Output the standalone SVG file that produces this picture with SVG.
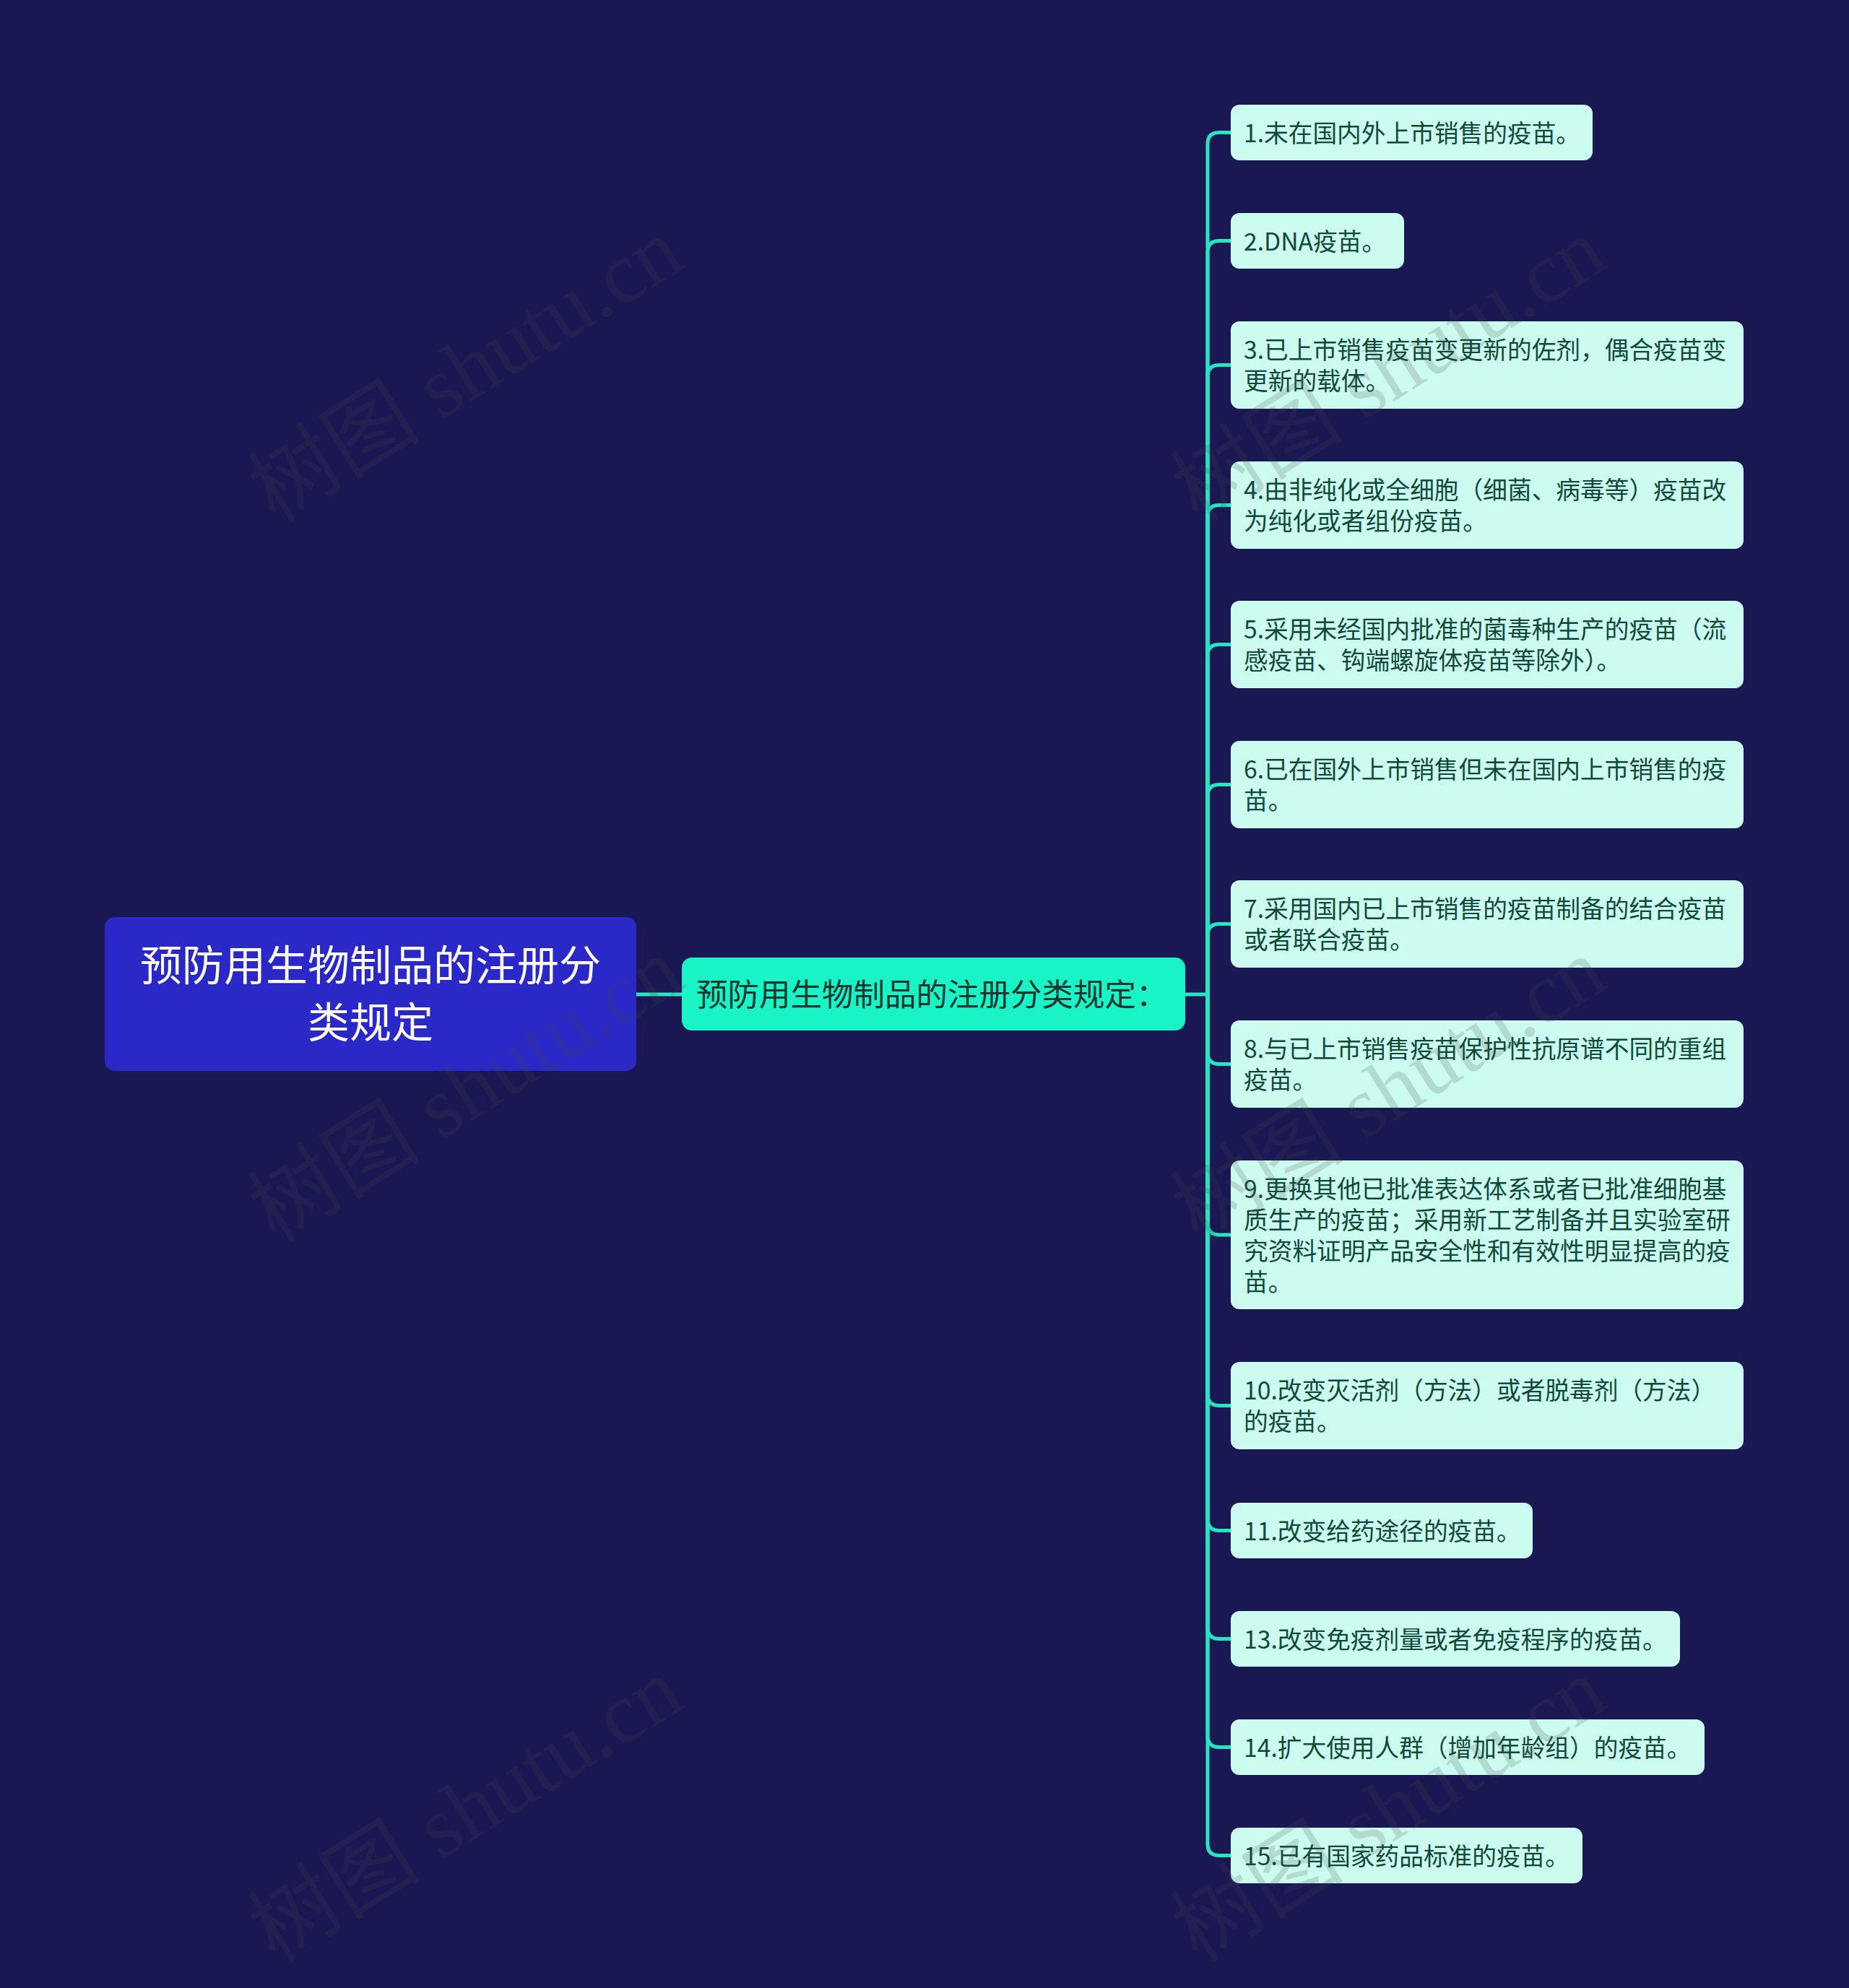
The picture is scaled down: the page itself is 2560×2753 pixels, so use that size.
<svg xmlns="http://www.w3.org/2000/svg" width="2560" height="2753" viewBox="0 0 2560 2753">
<style>
.bg{fill:#1a1852}
.root{fill:#2a28c6}
.sub{fill:#18f4c5}
.leaf{fill:#ccfbef}
.rt{font-family:"Noto Sans CJK SC","Noto Sans",sans-serif;font-size:58px;fill:#ffffff;text-anchor:middle}
.st{font-family:"Noto Sans CJK SC","Noto Sans",sans-serif;font-size:43.5px;fill:#17362f}
.lt{font-family:"Noto Sans CJK SC","Noto Sans",sans-serif;font-size:33.7px;fill:#0d4a3a}
.ln{fill:none;stroke:#24e6c2;stroke-width:5;stroke-linecap:round;stroke-linejoin:round}
.wm{font-family:"Liberation Serif","Noto Sans CJK SC",serif;font-size:120px;fill:#484848;opacity:0.18;text-anchor:middle}
</style>
<rect class="bg" x="0" y="0" width="2560" height="2753"/>
<g id="connectors">
<path class="ln" d="M881 1377 H944"/>
<path class="ln" d="M1641 1377 H1672"/>
<path class="ln" d="M1672 1377 V199.5 Q1672 183.5 1688 183.5 H1704"/>
<path class="ln" d="M1672 1377 V349.5 Q1672 333.5 1688 333.5 H1704"/>
<path class="ln" d="M1672 1377 V521.5 Q1672 505.5 1688 505.5 H1704"/>
<path class="ln" d="M1672 1377 V715.5 Q1672 699.5 1688 699.5 H1704"/>
<path class="ln" d="M1672 1377 V908.5 Q1672 892.5 1688 892.5 H1704"/>
<path class="ln" d="M1672 1377 V1102.5 Q1672 1086.5 1688 1086.5 H1704"/>
<path class="ln" d="M1672 1377 V1295.5 Q1672 1279.5 1688 1279.5 H1704"/>
<path class="ln" d="M1672 1377 V1457.5 Q1672 1473.5 1688 1473.5 H1704"/>
<path class="ln" d="M1672 1377 V1694 Q1672 1710 1688 1710 H1704"/>
<path class="ln" d="M1672 1377 V1930.5 Q1672 1946.5 1688 1946.5 H1704"/>
<path class="ln" d="M1672 1377 V2103.5 Q1672 2119.5 1688 2119.5 H1704"/>
<path class="ln" d="M1672 1377 V2253.5 Q1672 2269.5 1688 2269.5 H1704"/>
<path class="ln" d="M1672 1377 V2403.5 Q1672 2419.5 1688 2419.5 H1704"/>
<path class="ln" d="M1672 1377 V2553.5 Q1672 2569.5 1688 2569.5 H1704"/>
</g>
<g id="root">
<rect class="root" x="145" y="1270" width="736" height="213" rx="14"/>
<text class="rt" x="513" y="1358">预防用生物制品的注册分</text>
<text class="rt" x="513" y="1437">类规定</text>
</g>
<g id="sub">
<rect class="sub" x="944" y="1326" width="697" height="101" rx="14"/>
<text class="st" x="964" y="1393">预防用生物制品的注册分类规定：</text>
</g>
<g id="n1"><rect class="leaf" x="1704" y="145" width="501" height="77" rx="12"/><text class="lt" x="1722" y="196.5">1.未在国内外上市销售的疫苗。</text></g>
<g id="n2"><rect class="leaf" x="1704" y="295" width="240" height="77" rx="12"/><text class="lt" x="1722" y="346.5">2.DNA疫苗。</text></g>
<g id="n3"><rect class="leaf" x="1704" y="445" width="710" height="121" rx="12"/><text class="lt" x="1722" y="497">3.已上市销售疫苗变更新的佐剂，偶合疫苗变</text><text class="lt" x="1722" y="540">更新的载体。</text></g>
<g id="n4"><rect class="leaf" x="1704" y="639" width="710" height="121" rx="12"/><text class="lt" x="1722" y="691">4.由非纯化或全细胞（细菌、病毒等）疫苗改</text><text class="lt" x="1722" y="734">为纯化或者组份疫苗。</text></g>
<g id="n5"><rect class="leaf" x="1704" y="832" width="710" height="121" rx="12"/><text class="lt" x="1722" y="884">5.采用未经国内批准的菌毒种生产的疫苗（流</text><text class="lt" x="1722" y="927">感疫苗、钩端螺旋体疫苗等除外）。</text></g>
<g id="n6"><rect class="leaf" x="1704" y="1026" width="710" height="121" rx="12"/><text class="lt" x="1722" y="1078">6.已在国外上市销售但未在国内上市销售的疫</text><text class="lt" x="1722" y="1121">苗。</text></g>
<g id="n7"><rect class="leaf" x="1704" y="1219" width="710" height="121" rx="12"/><text class="lt" x="1722" y="1271">7.采用国内已上市销售的疫苗制备的结合疫苗</text><text class="lt" x="1722" y="1314">或者联合疫苗。</text></g>
<g id="n8"><rect class="leaf" x="1704" y="1413" width="710" height="121" rx="12"/><text class="lt" x="1722" y="1465">8.与已上市销售疫苗保护性抗原谱不同的重组</text><text class="lt" x="1722" y="1508">疫苗。</text></g>
<g id="n9"><rect class="leaf" x="1704" y="1607" width="710" height="206" rx="12"/><text class="lt" x="1722" y="1658.5">9.更换其他已批准表达体系或者已批准细胞基</text><text class="lt" x="1722" y="1701.5">质生产的疫苗；采用新工艺制备并且实验室研</text><text class="lt" x="1722" y="1744.5">究资料证明产品安全性和有效性明显提高的疫</text><text class="lt" x="1722" y="1787.5">苗。</text></g>
<g id="n10"><rect class="leaf" x="1704" y="1886" width="710" height="121" rx="12"/><text class="lt" x="1722" y="1938">10.改变灭活剂（方法）或者脱毒剂（方法）</text><text class="lt" x="1722" y="1981">的疫苗。</text></g>
<g id="n11"><rect class="leaf" x="1704" y="2081" width="418" height="77" rx="12"/><text class="lt" x="1722" y="2132.5">11.改变给药途径的疫苗。</text></g>
<g id="n13"><rect class="leaf" x="1704" y="2231" width="622" height="77" rx="12"/><text class="lt" x="1722" y="2282.5">13.改变免疫剂量或者免疫程序的疫苗。</text></g>
<g id="n14"><rect class="leaf" x="1704" y="2381" width="656" height="77" rx="12"/><text class="lt" x="1722" y="2432.5">14.扩大使用人群（增加年龄组）的疫苗。</text></g>
<g id="n15"><rect class="leaf" x="1704" y="2531" width="487" height="77" rx="12"/><text class="lt" x="1722" y="2582.5">15.已有国家药品标准的疫苗。</text></g>
<g id="watermarks">
<text class="wm" transform="translate(645 513) rotate(-32)" y="40">树图 shutu.cn</text>
<text class="wm" transform="translate(645 1510) rotate(-32)" y="40">树图 shutu.cn</text>
<text class="wm" transform="translate(645 2507) rotate(-32)" y="40">树图 shutu.cn</text>
<text class="wm" transform="translate(1923 513) rotate(-32)" y="40">树图 shutu.cn</text>
<text class="wm" transform="translate(1923 1510) rotate(-32)" y="40">树图 shutu.cn</text>
<text class="wm" transform="translate(1923 2507) rotate(-32)" y="40">树图 shutu.cn</text>
</g>
</svg>
